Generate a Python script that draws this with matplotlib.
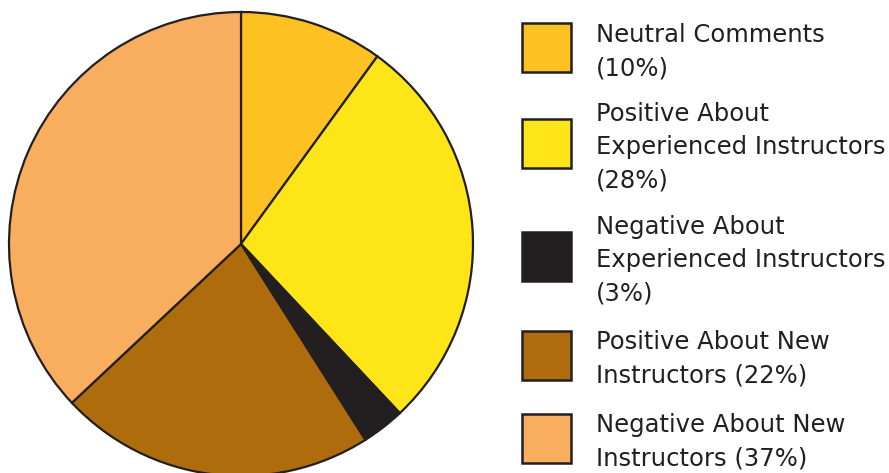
import matplotlib.pyplot as plt
from matplotlib.patches import Rectangle

labels = ["Neutral Comments\n(10%)",
          "Positive About\nExperienced Instructors\n(28%)",
          "Negative About\nExperienced Instructors\n(3%)",
          "Positive About New\nInstructors (22%)",
          "Negative About New\nInstructors (37%)"]
shares = [10, 28, 3, 22, 37]
colors = ["#FDC221", "#FDE517", "#231F20", "#AF6C0C", "#F9AE5F"]
key_y = [48, 143, 256, 355, 438]   # legend box centres, pixels from top

W, H = 889, 473
fig = plt.figure(figsize=(W / 100, H / 100), dpi=100)
edge = "#231F20"

# pie: centre (241, 244) px, radius 232 px
r = 232
ax = fig.add_axes([(241 - r) / W, (H - 244 - r) / H, 2 * r / W, 2 * r / H])
ax.pie(shares, colors=colors, startangle=90, counterclock=False,
       wedgeprops=dict(edgecolor=edge, linewidth=1.6))
ax.set_xlim(-1, 1)
ax.set_ylim(-1, 1)
ax.set_aspect("equal")
ax.axis("off")

# legend drawn by hand
lg = fig.add_axes([0, 0, 1, 1])
lg.set_xlim(0, W)
lg.set_ylim(H, 0)
lg.axis("off")
for lab, c, y in zip(labels, colors, key_y):
    lg.add_patch(Rectangle((522, y - 24.5), 49, 49, facecolor=c,
                           edgecolor=edge, linewidth=1.8))
    lg.text(596, y + 4, lab, va="center", ha="left", fontsize=17.5,
            color="#231F20", linespacing=1.5)

fig.savefig("out.png", dpi=100)
